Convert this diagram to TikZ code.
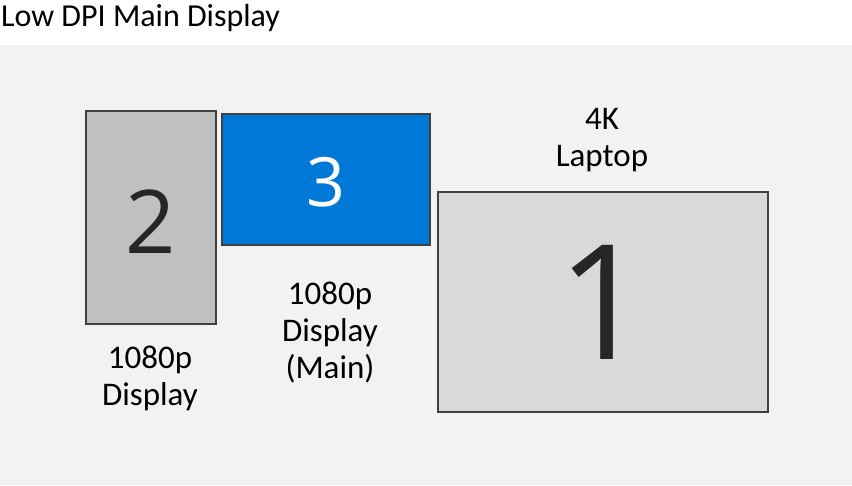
\documentclass[tikz,border=0pt]{standalone}
\usepackage{fontspec}
\setmainfont{Carlito}
\newfontfamily\numfont{Open Sans}
\definecolor{bg}{HTML}{F2F2F2}
\definecolor{mon}{HTML}{D9D9D9}
\definecolor{mtwo}{HTML}{C0C0C0}
\definecolor{blu}{HTML}{0078D7}
\definecolor{edge}{HTML}{404040}
\begin{document}
\begin{tikzpicture}[x=1pt,y=-1pt,
  box/.style={draw=edge,line width=2.2pt},
  lab/.style={align=center,font=\fontsize{33}{37}\selectfont}]
\useasboundingbox (0,0) rectangle (852,485);
\fill[bg] (0,45) rectangle (852,485);
\node[anchor=west,inner sep=1pt,font=\fontsize{32}{36}\selectfont] (title) at (0,18) {Low DPI Main Display};
\draw[box,fill=mtwo] (86,111) rectangle (216,324);
\node[font=\numfont\fontsize{88}{90}\selectfont,text=black!85] (n2) at (151,222) {2};
\draw[box,fill=blu] (222,114) rectangle (430,245);
\node[font=\numfont\fontsize{68}{70}\selectfont,text=white] (n3) at (326,182) {3};
\draw[box,fill=mon] (438,192) rectangle (768,412);
\node[font=\numfont\fontsize{160}{160}\selectfont,text=black!85] (n1) at (603,302) {1};
\node[lab] (l1) at (602,140) {4K\\Laptop};
\node[lab] (l2) at (150,378) {1080p\\Display};
\node[lab] (l3) at (330,333) {1080p\\Display\\(Main)};
\end{tikzpicture}
\end{document}
